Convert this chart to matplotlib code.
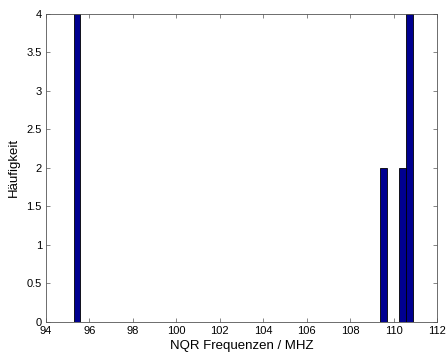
import matplotlib
matplotlib.use("Agg")
import matplotlib.pyplot as plt

plt.rcParams['font.family'] = ['Liberation Sans', 'DejaVu Sans']

centers = [95.42, 109.52, 110.42, 110.72]
counts = [4, 2, 2, 4]
bin_width = 0.31
xticks = [94, 96, 98, 100, 102, 104, 106, 108, 110, 112]
yticks = [0, 0.5, 1, 1.5, 2, 2.5, 3, 3.5, 4]
ytick_labels = ['0', '0.5', '1', '1.5', '2', '2.5', '3', '3.5', '4']

fig = plt.figure(figsize=(4.47, 3.6), dpi=100)
ax = fig.add_axes([0.103, 0.106, 0.875, 0.856])
ax.bar(centers, counts, width=bin_width, color='#000090', edgecolor='black', linewidth=0.6)
ax.set_xlim(94, 112)
ax.set_ylim(0, 4)
ax.set_xticks(xticks)
ax.set_xticklabels([str(t) for t in xticks])
ax.set_yticks(yticks)
ax.set_yticklabels(ytick_labels)
ax.tick_params(direction='in', top=True, right=True, labelsize=8, length=3, width=0.5, color='#555555', pad=3)
for s in ax.spines.values():
    s.set_linewidth(0.6)
    s.set_color('#555555')
ax.set_xlabel('NQR Frequenzen / MHZ', fontsize=9.5, labelpad=3)
ax.set_ylabel('Häufigkeit', fontsize=9.5, labelpad=5)
fig.savefig('out.png', dpi=100)
